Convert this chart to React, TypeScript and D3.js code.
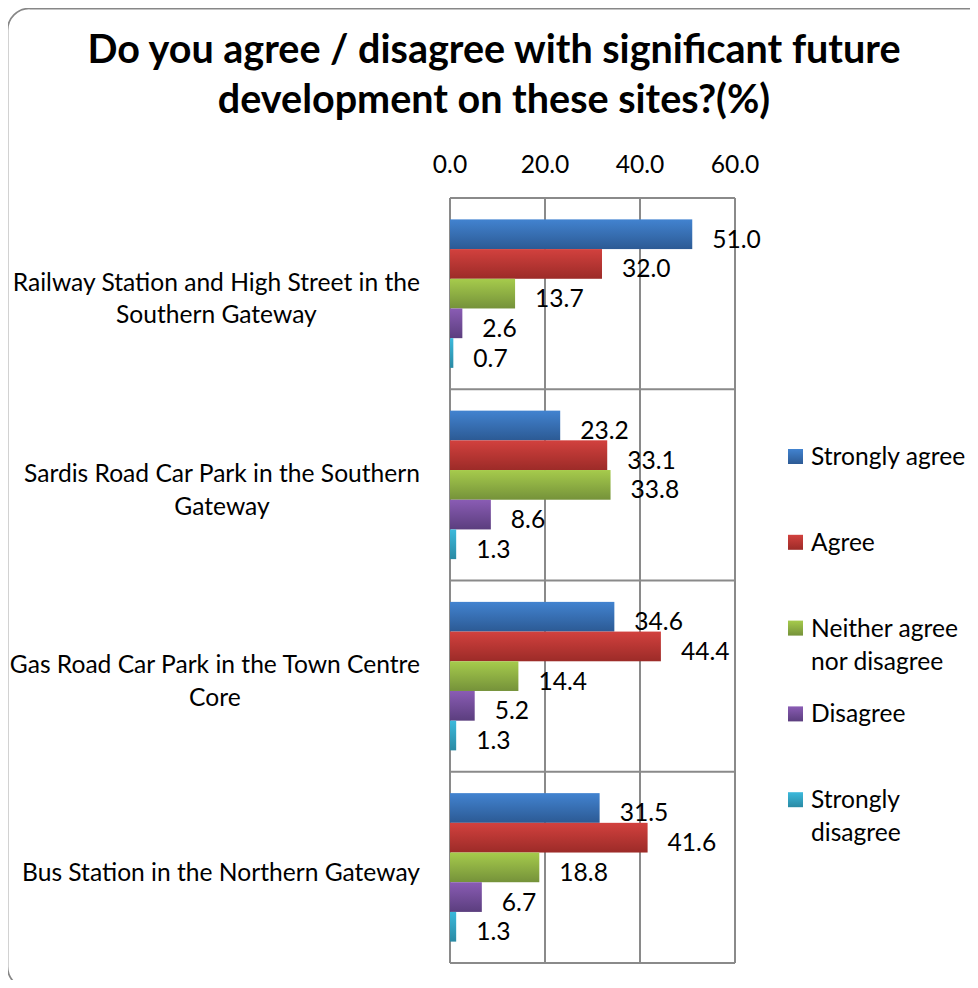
import { useEffect, useRef } from 'react';
import * as d3 from 'd3';

const CATEGORIES = [
  ['Railway Station and High Street in the', 'Southern Gateway'],
  ['Sardis Road Car Park in the Southern', 'Gateway'],
  ['Gas Road Car Park in the Town Centre', 'Core'],
  ['Bus Station in the Northern Gateway'],
];

const SERIES = ['Strongly agree', 'Agree', 'Neither agree nor disagree', 'Disagree', 'Strongly disagree'];
const LEGEND_LINES = [['Strongly agree'], ['Agree'], ['Neither agree', 'nor disagree'], ['Disagree'], ['Strongly', 'disagree']];

// values[category][series]
const VALUES = [
  [51.0, 32.0, 13.7, 2.6, 0.7],
  [23.2, 33.1, 33.8, 8.6, 1.3],
  [34.6, 44.4, 14.4, 5.2, 1.3],
  [31.5, 41.6, 18.8, 6.7, 1.3],
];

const TICKS = [0, 20, 40, 60];

const COLORS = [
  { top: '#4283D0', bottom: '#2C5A94' },
  { top: '#D2413E', bottom: '#9C2B28' },
  { top: '#A6CB4C', bottom: '#75923A' },
  { top: '#8A5CB4', bottom: '#5B3E7E' },
  { top: '#3CB9DC', bottom: '#2A8AA4' },
];

const FONT = "Lato, 'Open Sans', sans-serif";
const FS = '24.6px';

export default function App() {
  const svgRef = useRef<SVGSVGElement>(null);

  useEffect(() => {
    const el = svgRef.current;
    if (!el) return;
    const svg = d3.select(el);
    svg.selectAll('*').remove();

    const W = 978;
    const H = 988;
    const plot = { left: 450, right: 735, top: 198, bottom: 963 };

    svg.attr('width', W).attr('height', H);

    const defs = svg.append('defs');
    COLORS.forEach((c, i) => {
      const gr = defs.append('linearGradient').attr('id', `grad${i}`)
        .attr('x1', 0).attr('y1', 0).attr('x2', 0).attr('y2', 1);
      gr.append('stop').attr('offset', '0%').attr('stop-color', c.top);
      gr.append('stop').attr('offset', '100%').attr('stop-color', c.bottom);
    });

    // outer rounded border
    svg.append('rect')
      .attr('x', 7.5).attr('y', 8.5).attr('width', 985).attr('height', 980)
      .attr('rx', 22).attr('fill', '#fff').attr('stroke', '#878787').attr('stroke-width', 1.75);

    // title
    const title = svg.append('text').attr('text-anchor', 'middle')
      .attr('font-family', FONT).attr('font-weight', 700).attr('font-size', '39.5px').attr('fill', '#000');
    title.append('tspan').attr('x', 494).attr('y', 63).text('Do you agree / disagree with significant future');
    title.append('tspan').attr('x', 494).attr('y', 113).text('development on these sites?(%)');

    const x = d3.scaleLinear().domain([0, 60]).range([plot.left, plot.right]);
    const y = d3.scaleBand<number>().domain(d3.range(CATEGORIES.length)).range([plot.top, plot.bottom]);
    const ys = d3.scaleBand<number>().domain(d3.range(SERIES.length)).range([0, y.bandwidth()])
      .paddingInner(0).paddingOuter(0.72);

    const grid = '#8a8a8a';
    // vertical gridlines
    svg.append('g').selectAll('line').data(TICKS).join('line')
      .attr('x1', (d) => x(d)).attr('x2', (d) => x(d))
      .attr('y1', plot.top).attr('y2', plot.bottom)
      .attr('stroke', grid).attr('stroke-width', 2);
    // horizontal category lines
    svg.append('g').selectAll('line').data(d3.range(CATEGORIES.length + 1)).join('line')
      .attr('x1', plot.left).attr('x2', plot.right)
      .attr('y1', (d) => plot.top + d * y.step()).attr('y2', (d) => plot.top + d * y.step())
      .attr('stroke', grid).attr('stroke-width', 2);

    // tick labels (top)
    svg.append('g').selectAll('text').data(TICKS).join('text')
      .attr('x', (d) => x(d)).attr('y', 173)
      .attr('text-anchor', 'middle').attr('font-family', FONT).attr('font-size', FS).attr('fill', '#000')
      .text((d) => d.toFixed(1));

    // bars
    const groups = svg.append('g').selectAll('g').data(VALUES).join('g')
      .attr('transform', (_d, i) => `translate(0,${y(i)})`);
    groups.selectAll('rect').data((d) => d).join('rect')
      .attr('x', x(0))
      .attr('y', (_d, j) => ys(j) as number)
      .attr('width', (d) => x(d) - x(0))
      .attr('height', ys.bandwidth())
      .attr('fill', (_d, j) => `url(#grad${j})`);
    groups.selectAll('text').data((d) => d).join('text')
      .attr('x', (d) => x(d) + 20)
      .attr('y', (_d, j) => (ys(j) as number) + ys.bandwidth() / 2 + 13.5)
      .attr('font-family', FONT).attr('font-size', FS).attr('fill', '#000')
      .text((d) => d.toFixed(1));

    // category labels
    const catG = svg.append('g').attr('font-family', FONT).attr('font-size', FS).attr('fill', '#000');
    CATEGORIES.forEach((lines, i) => {
      const cy = (y(i) as number) + y.bandwidth() / 2 + 13.5;
      const lh = 32.3;
      const t = catG.append('text').attr('text-anchor', 'middle');
      const spans = lines.map((ln, k) => t.append('tspan')
        .attr('y', cy + (k - (lines.length - 1) / 2) * lh).text(ln));
      const widths = spans.map((s) => (s.node() as SVGTSpanElement).getComputedTextLength());
      const maxW = d3.max(widths) || 0;
      const cx = 420 - maxW / 2;
      spans.forEach((s) => s.attr('x', cx));
    });

    // legend
    const leg = svg.append('g').attr('font-family', FONT).attr('font-size', FS).attr('fill', '#000');
    LEGEND_LINES.forEach((lines, i) => {
      const cy = 456.5 + i * 85.8;
      leg.append('rect').attr('x', 788).attr('y', cy - 7.5).attr('width', 15).attr('height', 15)
        .attr('fill', `url(#grad${i})`);
      const t = leg.append('text');
      lines.forEach((ln, k) => t.append('tspan').attr('x', 811).attr('y', cy + 8.5 + k * 33).text(ln));
    });
  }, []);

  return (
    <div style={{ width: 978, height: 988, margin: -8, overflow: 'hidden', background: '#fff' }}>
      <svg ref={svgRef} style={{ display: 'block' }} />
    </div>
  );
}
